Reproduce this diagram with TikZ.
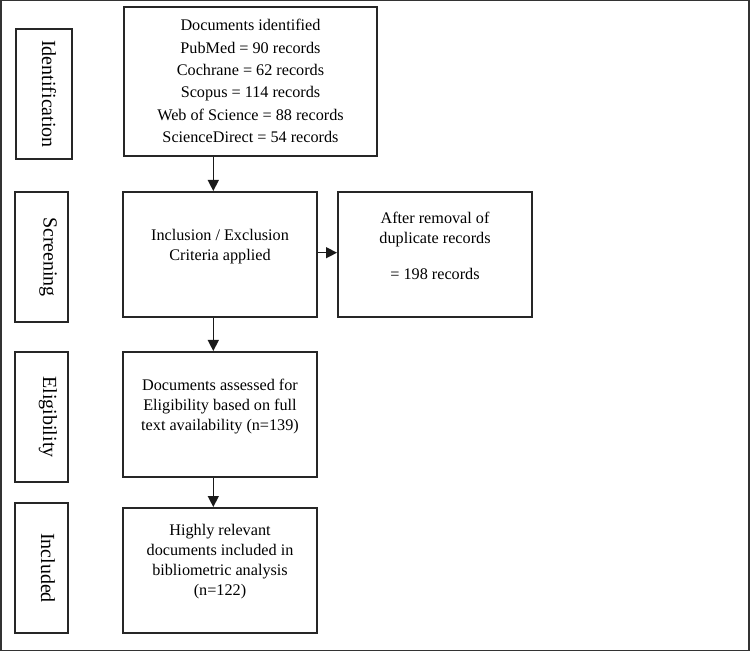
\documentclass[tikz,border=0pt]{standalone}
\usepackage{fontspec}
\setmainfont{Liberation Serif}
\usetikzlibrary{arrows.meta}
\begin{document}
\begin{tikzpicture}[x=1pt,y=-1pt,
  box/.style={draw=black!85,line width=2pt,inner sep=0pt},
  body/.style={font=\fontsize{16.2}{20}\selectfont,align=center,inner sep=0pt},
  stage/.style={font=\fontsize{20}{24}\selectfont,rotate=-90,inner sep=0pt},
  conn/.style={draw=black!90,line width=1.4pt,-{Triangle[length=11pt,width=11pt]}}]
\useasboundingbox (0,0) rectangle (750,652);
\draw[draw=black!80,line width=1.5pt] (0.75,0.75) rectangle (749,650.5);
% stage label boxes
\node[box,minimum width=56pt,minimum height=130pt] (sId) at (43.5,94) {};
\node[stage] at ([xshift=5.5pt]sId.center) {Identification};
\node[box,minimum width=53pt,minimum height=130pt] (sSc) at (41.5,257) {};
\node[stage] at ([xshift=6.5pt]sSc.center) {Screening};
\node[box,minimum width=53pt,minimum height=130pt] (sEl) at (41.5,417) {};
\node[stage] at ([xshift=6.5pt]sEl.center) {Eligibility};
\node[box,minimum width=53pt,minimum height=130pt] (sIn) at (41.5,568) {};
\node[stage] at ([xshift=6.5pt]sIn.center) {Included};
% main boxes
\node[box,minimum width=253pt,minimum height=149pt] (ident) at (250.5,81.5) {};
\node[body,font=\fontsize{16.2}{22.3}\selectfont] at (250.5,81) {Documents identified\\PubMed = 90 records\\Cochrane = 62 records\\Scopus = 114 records\\Web of Science = 88 records\\ScienceDirect = 54 records};
\node[box,minimum width=194pt,minimum height=125pt] (incl) at (220,254.5) {};
\node[body] at (220,247) {Inclusion / Exclusion\\Criteria applied};
\node[box,minimum width=194pt,minimum height=125pt] (dup) at (435,254.5) {};
\node[body] at (435,229.5) {After removal of\\duplicate records};
\node[body] at (435,274) {= 198 records};
\node[box,minimum width=194pt,minimum height=125pt] (elig) at (220,414.5) {};
\node[body] at (220,407) {Documents assessed for\\Eligibility based on full\\text availability (n=139)};
\node[box,minimum width=194pt,minimum height=125pt] (final) at (220,570.5) {};
\node[body] at (220,562) {Highly relevant\\documents included in\\bibliometric analysis\\(n=122)};
% connectors
\draw[conn] (ident.south -| 213.3,0) -- (incl.north -| 213.3,0);
\draw[conn] (incl.south -| 213.3,0) -- (elig.north -| 213.3,0);
\draw[conn] (elig.south -| 213.3,0) -- (final.north -| 213.3,0);
\draw[conn] (incl.east |- 0,252.7) -- (dup.west |- 0,252.7);
\end{tikzpicture}
\end{document}
